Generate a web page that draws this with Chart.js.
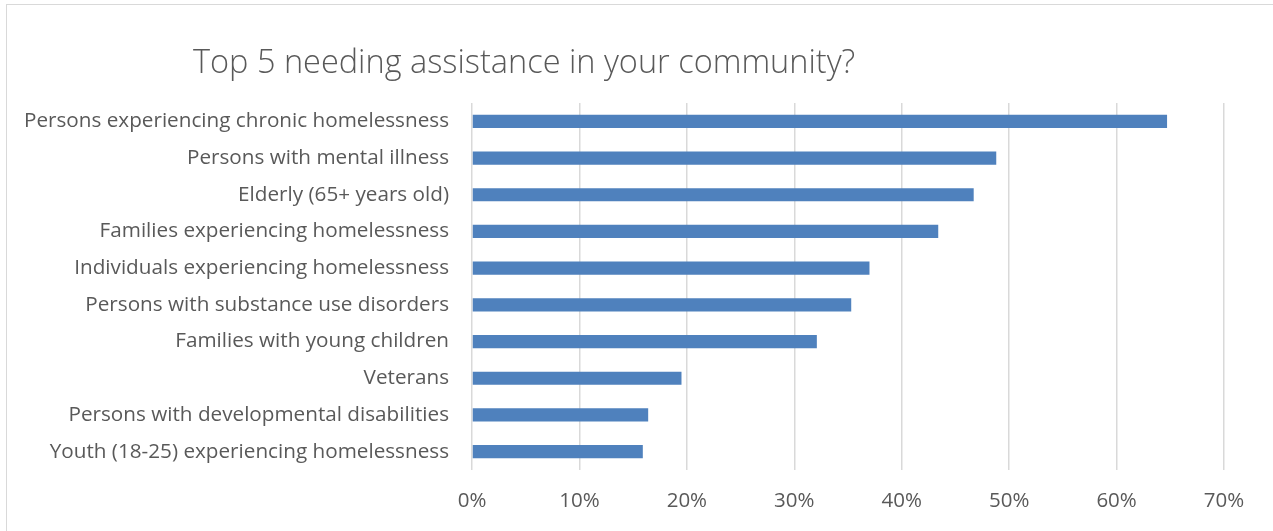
<!DOCTYPE html>
<html>
<head>
<meta charset="utf-8">
<title>Top 5 needing assistance in your community?</title>
<script src="https://cdn.jsdelivr.net/npm/chart.js@4/dist/chart.umd.min.js"></script>
<style>
    html, body { margin: 0; padding: 0; background: #fff; }
    #wrap { position: relative; width: 1273px; height: 531px; }
</style>
</head>
<body>
<div id="wrap"><canvas id="chart"></canvas></div>
<script>
// Chart data
const chartTitle = 'Top 5 needing assistance in your community?';

const categories = [
    'Persons experiencing chronic homelessness',
    'Persons with mental illness',
    'Elderly (65+ years old)',
    'Families experiencing homelessness',
    'Individuals experiencing homelessness',
    'Persons with substance use disorders',
    'Families with young children',
    'Veterans',
    'Persons with developmental disabilities',
    'Youth (18-25) experiencing homelessness'
];

const shares = [64.7, 48.8, 46.7, 43.4, 37.0, 35.3, 32.1, 19.5, 16.4, 15.9];

const tickLabels = ['0%', '10%', '20%', '30%', '40%', '50%', '60%', '70%'];

// Styles
const TEXT_COLOR = '#595959';
const BAR_COLOR = '#4F81BD';
const GRID_COLOR = '#D9D9D9';
const FONT_FAMILY = '"Open Sans", Lato, sans-serif';

// Title + outer frame, drawn at the same spots as the reference
const frameAndTitle = {
    id: 'frameAndTitle',
    beforeDraw(chart) {
        const ctx = chart.ctx;
        ctx.save();
        ctx.strokeStyle = GRID_COLOR;
        ctx.lineWidth = 1;
        ctx.strokeRect(6.5, 4.5, 1300, 600);
        ctx.restore();
    },
    afterDraw(chart) {
        const ctx = chart.ctx;
        ctx.save();
        ctx.fillStyle = TEXT_COLOR;
        ctx.font = '300 32.5px ' + FONT_FAMILY;
        ctx.textAlign = 'left';
        ctx.textBaseline = 'middle';
        ctx.fillText(chartTitle, 193, 64);
        ctx.restore();
    }
};

const ctx = document.getElementById('chart').getContext('2d');
new Chart(ctx, {
    type: 'bar',
    data: {
        labels: categories,
        datasets: [{
            data: shares,
            backgroundColor: BAR_COLOR,
            barPercentage: 0.36,
            categoryPercentage: 1
        }]
    },
    options: {
        indexAxis: 'y',
        responsive: true,
        maintainAspectRatio: false,
        animation: false,
        layout: {
            padding: { top: 103, left: 0, right: 49, bottom: 0 }
        },
        plugins: {
            legend: { display: false },
            title: { display: false },
            tooltip: { enabled: false }
        },
        scales: {
            x: {
                min: 0,
                max: 70,
                ticks: {
                    stepSize: 10,
                    padding: 19,
                    color: TEXT_COLOR,
                    font: { family: FONT_FAMILY, size: 20.5 },
                    callback: function(value, index) {
                        return tickLabels[index];
                    }
                },
                grid: {
                    color: GRID_COLOR,
                    lineWidth: 1.5,
                    drawTicks: false
                },
                border: { display: false },
                afterFit: function(scale) {
                    scale.height = 61;
                }
            },
            y: {
                ticks: {
                    padding: 23,
                    color: TEXT_COLOR,
                    font: { family: FONT_FAMILY, size: 20.7 }
                },
                grid: { display: false, drawTicks: false },
                border: { display: false },
                afterFit: function(scale) {
                    scale.width = 472;
                }
            }
        }
    },
    plugins: [frameAndTitle]
});
</script>
</body>
</html>
